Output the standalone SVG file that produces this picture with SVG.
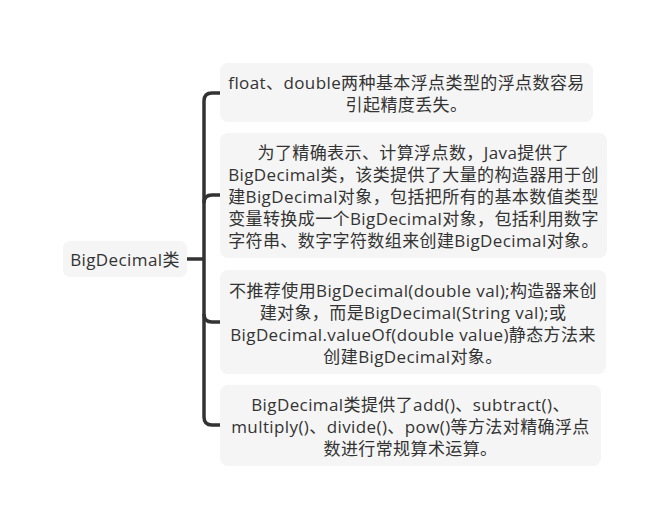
<svg xmlns="http://www.w3.org/2000/svg" width="670" height="530" viewBox="0 0 670 530">
<style>
.box{fill:#f5f5f5;}
.t{font-family:"Open Sans","Noto Sans CJK SC",sans-serif;font-size:17px;letter-spacing:0.4px;fill:#333;text-anchor:middle;dominant-baseline:central;}
.c{fill:none;stroke:#333;stroke-width:3.5;stroke-linecap:butt;}
</style>
<rect width="670" height="530" fill="#fff"/>
<g id="connectors">
<path class="c" d="M187,259 H204"/>
<path class="c" d="M220,93 H212 Q204,93 204,101 V417 Q204,425 212,425 H220"/>
<path class="c" d="M204,203 Q204,195 212,195 H220"/>
<path class="c" d="M204,314 Q204,322 212,322 H220"/>
</g>
<g id="root">
<rect class="box" x="63" y="241" width="124" height="36" rx="7"/>
<text class="t" x="125" y="259">BigDecimal类</text>
</g>
<g id="node1">
<rect class="box" x="220" y="63" width="373" height="59" rx="8"/>
<text class="t" x="406.5" y="82">float、double两种基本浮点类型的浮点数容易</text>
<text class="t" x="406.5" y="104">引起精度丢失。</text>
</g>
<g id="node2">
<rect class="box" x="220" y="133" width="387" height="125" rx="8"/>
<text class="t" x="413.5" y="152">为了精确表示、计算浮点数，Java提供了</text>
<text class="t" x="413.5" y="174">BigDecimal类，该类提供了大量的构造器用于创</text>
<text class="t" x="413.5" y="196">建BigDecimal对象，包括把所有的基本数值类型</text>
<text class="t" x="413.5" y="218">变量转换成一个BigDecimal对象，包括利用数字</text>
<text class="t" x="413.5" y="240">字符串、数字字符数组来创建BigDecimal对象。</text>
</g>
<g id="node3">
<rect class="box" x="220" y="270" width="386" height="104" rx="8"/>
<text class="t" x="413" y="290">不推荐使用BigDecimal(double val);构造器来创</text>
<text class="t" x="413" y="312">建对象，而是BigDecimal(String val);或</text>
<text class="t" x="413" y="334">BigDecimal.valueOf(double value)静态方法来</text>
<text class="t" x="413" y="356">创建BigDecimal对象。</text>
</g>
<g id="node4">
<rect class="box" x="220" y="385" width="381" height="81" rx="8"/>
<text class="t" x="410.5" y="404">BigDecimal类提供了add()、subtract()、</text>
<text class="t" x="410.5" y="426">multiply()、divide()、pow()等方法对精确浮点</text>
<text class="t" x="410.5" y="448">数进行常规算术运算。</text>
</g>
</svg>
